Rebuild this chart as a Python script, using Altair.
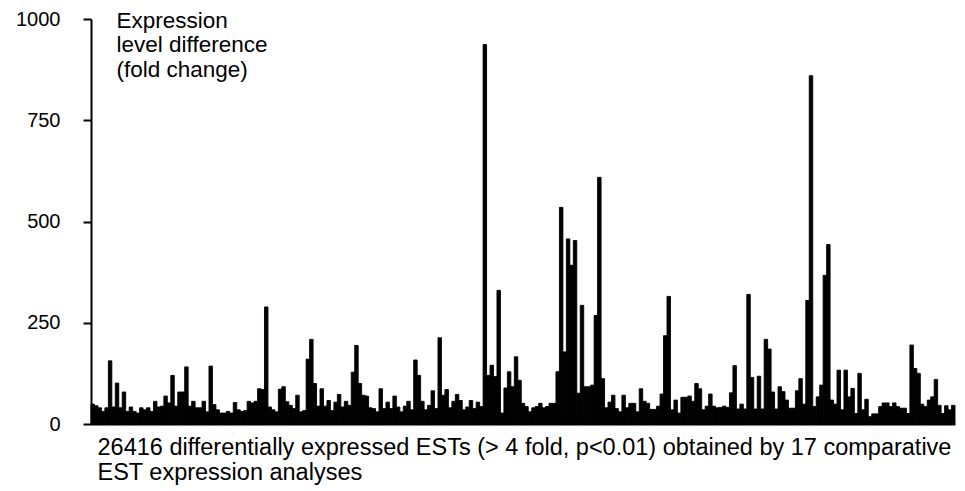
import altair as alt
import pandas as pd

# Fold-change values, left to right, in seven stretches
seg1 = [49, 45, 40, 31, 40, 156, 42, 101, 40, 79, 31, 42, 31, 27, 40, 35, 40, 31,
        56, 42, 44, 69, 52, 120, 44, 79, 79, 141]
seg2 = [44, 56, 40, 40, 56, 30, 143, 48, 35, 27, 27, 31, 27, 53, 35, 31, 33, 56,
        52, 56, 87, 85, 289, 42, 35, 30, 86, 92, 55]
seg3 = [46, 38, 71, 30, 33, 160, 209, 100, 44, 87, 44, 58, 33, 54, 73, 42, 56, 46,
        128, 194, 100, 71, 69, 40, 38, 30, 87]
seg4 = [38, 54, 38, 69, 42, 30, 44, 56, 35, 158, 120, 56, 35, 46, 82, 38, 213, 71,
        85, 40, 56, 73, 58, 35, 42, 58, 38, 54]
seg5 = [43, 937, 120, 145, 117, 330, 27, 89, 129, 92, 166, 108, 51, 43, 30, 40, 43,
        51, 40, 43, 51, 51, 129, 535, 178, 457, 392, 453, 76, 293, 92, 92, 96, 268,
        609, 112, 40, 54, 71, 38, 30, 71, 40]
seg6 = [51, 51, 30, 87, 56, 51, 36, 36, 44, 74, 218, 315, 35, 59, 27, 66, 66, 69,
        56, 100, 87, 35, 44, 74, 44, 40, 41, 44, 41, 77, 144, 37, 49, 37, 320, 115,
        37, 118, 37, 209, 185, 79, 37, 92]
seg7 = [80, 59, 39, 39, 82, 112, 49, 305, 860, 43, 67, 96, 367, 443, 59, 49, 133, 35,
        133, 67, 88, 26, 125, 35, 61, 18, 25, 25, 43, 52, 52, 43, 52, 43, 39, 39, 26,
        195, 137, 125, 49, 43, 59, 67, 110, 46, 26, 45, 35, 46]

y_ticks = [0, 250, 500, 750, 1000]
y_title = ["Expression", "level difference", "(fold change)"]
x_title = ["26416 differentially expressed ESTs (> 4 fold, p<0.01) obtained by 17 comparative",
           "EST expression analyses"]

values = seg1 + seg2 + seg3 + seg4 + seg5 + seg6 + seg7
n = len(values)
df = pd.DataFrame({"est": list(range(n)), "fold": values})

FONT = "Liberation Sans"

chart = (
    alt.Chart(df)
    .transform_calculate(est_end="datum.est + 1")
    .mark_bar(color="black", stroke="black", strokeWidth=0.9)
    .encode(
        x=alt.X(
            "est:Q",
            scale=alt.Scale(domain=[0, n], nice=False, zero=False),
            axis=alt.Axis(
                labels=False, ticks=False, grid=False,
                domainColor="black", domainWidth=2,
                title=x_title, titleFont=FONT, titleFontSize=23.5,
                titleFontWeight="normal", titleColor="black",
                titleAnchor="start", titleAlign="left",
                titleX=6, titleY=30, titleBaseline="alphabetic",
                titleLineHeight=25,
            ),
        ),
        x2="est_end:Q",
        y=alt.Y(
            "fold:Q",
            scale=alt.Scale(domain=[0, 1000], nice=False),
            axis=alt.Axis(
                values=y_ticks, grid=False, format="d",
                tickSize=8, tickWidth=2, tickColor="black",
                domainColor="black", domainWidth=2,
                labelFont=FONT, labelFontSize=20, labelColor="black",
                labelPadding=23, labelFlush=False,
                title=y_title, titleFont=FONT, titleFontSize=22.5,
                titleFontWeight="normal", titleColor="black",
                titleAngle=0, titleAlign="left", titleBaseline="alphabetic",
                titleX=25, titleY=8, titleLineHeight=24.5,
            ),
        ),
        y2=alt.datum(0),
    )
    .properties(
        width=864, height=405,
        autosize=alt.AutoSizeParams(type="none"),
        padding={"left": 91, "top": 19, "right": 10, "bottom": 67},
    )
    .configure_view(stroke=None)
)

chart.save("out.html", embed_options={"renderer": "svg", "actions": False})
